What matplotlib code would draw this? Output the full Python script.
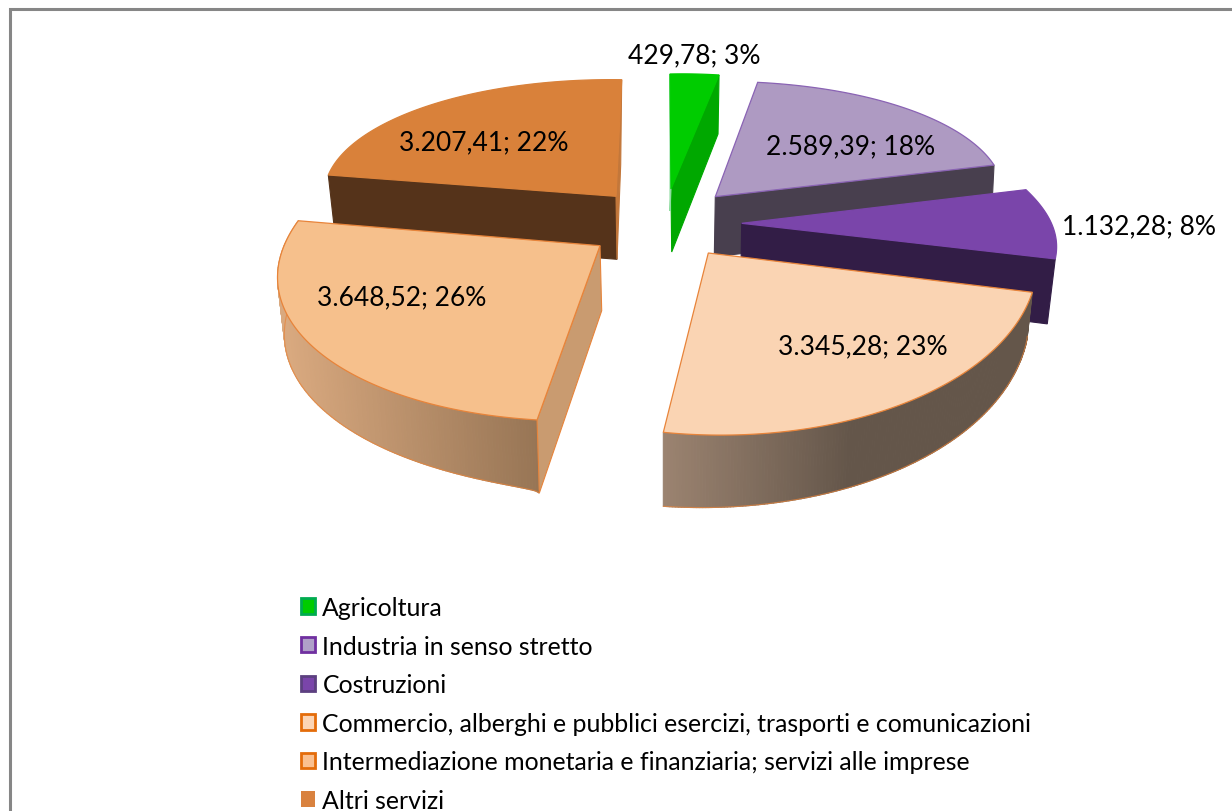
import numpy as np
import matplotlib
matplotlib.use("Agg")
import matplotlib.pyplot as plt
from matplotlib.collections import PolyCollection
from matplotlib.colors import to_rgb
from matplotlib.patches import Patch, Polygon

categories = ["Agricoltura", "Industria in senso stretto", "Costruzioni",
              "Commercio, alberghi e pubblici esercizi, trasporti e comunicazioni",
              "Intermediazione monetaria e finanziaria; servizi alle imprese",
              "Altri servizi"]
values = [429.78, 2589.39, 1132.28, 3345.28, 3648.52, 3207.41]
percents = [3, 18, 8, 23, 26, 22]
value_text = ["429,78", "2.589,39", "1.132,28", "3.345,28", "3.648,52", "3.207,41"]

# layout of each exploded slice in pixels: tip, then how the unit circle maps on screen
tips = [(671, 190), (715.3, 197.7), (741.7, 224.3), (708.3, 254), (600, 246.7), (616, 197.3)]
shapes = [(262, -1, 115, -5.5), (290.7, -12.2, 115.8, -3.2), (308.4, -59.4, 141, 1.2),
          (333.7, -1.7, 180.4, -4.9), (309.3, 19.9, 175.4, -4.2), (292.7, 5.7, 116.6, 2)]
bulges = [0, 0.012, 0.006, 0.03, 0.055, 0.008]
bulge_skew = [1, 1, 1, 1, 1.6, 1]
top_colors = ["#00cc00", "#ae9ac2", "#7a45aa", "#fad4b3", "#f6c08c", "#d9813a"]
edge_colors = ["#00cc00", "#8a63b4", "#7a45aa", "#e8843a", "#e8843a", "#d9813a"]
label_pos = [(694, 55.5), (851, 146.5), (1139, 226.5), (863, 346.5), (402, 297.5), (484, 142.5)]
legend_fill = ["#00cc00", "#b0a0c8", "#7a45aa", "#fcd5b5", "#fac090", "#d9823f"]
legend_edge = ["#00ab50", "#7030a0", "#5c4080", "#e46c0a", "#e46c0a", "none"]

plt.rcParams["font.family"] = ["Lato", "DejaVu Sans"]

total = sum(values)
cum = np.concatenate([[0], np.cumsum(values)]) / total * 360


def point(i, theta, t=0.0):
    tx, ty = tips[i]
    a, b, c, e = shapes[i]
    s, co = np.sin(np.radians(theta)), np.cos(np.radians(theta))
    k = 1 + bulges[i] * np.sin(np.pi * t ** bulge_skew[i])
    return tx + k * (a * s + b * co), ty + k * (-c * co + e * s)


def rim(i, n=160):
    ts = np.linspace(0, 1, n)
    th = cum[i] + ts * (cum[i + 1] - cum[i])
    x, y = point(i, th, ts)
    return ts, x, y


def side_wall(i, theta, off_tip, off_rim, color, edge=None):
    tx, ty = tips[i]
    px, py = point(i, theta)
    pts = [(tx, ty), (px, py), (px + off_rim[0], py + off_rim[1]), (tx + off_tip[0], ty + off_tip[1])]
    ax.add_patch(Polygon(pts, closed=True, facecolor=color, edgecolor=edge or color, lw=0.8))


def curved_wall(i, off_a, off_b, stops, edge):
    ts, x, y = rim(i)
    dx = off_a[0] + ts * (off_b[0] - off_a[0])
    dy = off_a[1] + np.sqrt(ts) * (off_b[1] - off_a[1])
    xb, yb = x + dx, y + dy
    quads = [[(x[j], y[j]), (x[j + 1], y[j + 1]), (xb[j + 1], yb[j + 1]), (xb[j], yb[j])]
             for j in range(len(ts) - 1)]
    # shaded from left to right along screen x
    xs = [q[0] for q in stops]
    rgb = np.array([to_rgb(q[1]) for q in stops])
    mid = (x[:-1] + x[1:]) / 2
    cols = np.column_stack([np.interp(mid, xs, rgb[:, k]) for k in range(3)])
    ax.add_collection(PolyCollection(quads, facecolors=cols, edgecolors=cols, linewidths=0.8))
    ax.plot(xb, yb, color=edge, lw=0.8, alpha=0.7, zorder=1)


def top_face(i):
    ts, x, y = rim(i)
    pts = np.column_stack([np.r_[tips[i][0], x], np.r_[tips[i][1], y]])
    ax.add_patch(Polygon(pts, closed=True, facecolor=top_colors[i], edgecolor=edge_colors[i], lw=0.9))


fig = plt.figure(figsize=(12.32, 8.12), dpi=100)
ax = fig.add_axes([0, 0, 1, 1])
ax.set_xlim(0, 1232)
ax.set_ylim(812, 0)
ax.axis("off")

# chart frame, only left and top survive the crop
ax.plot([9.5, 9.5, 1232], [812, 10, 10], color="#868686", lw=2.2, solid_joinstyle="miter")

# back to front
side_wall(5, cum[5], (1, 63), (7, 62), "#55331a")
side_wall(5, cum[6], (1, 63), (-1, 85), "#c3773a")
top_face(5)

side_wall(0, cum[1], (0.7, 63), (-1, 59), "#00a800")
side_wall(0, cum[0], (-1, 22), (0, 0), "#8fdca0")
top_face(0)

side_wall(1, cum[2], (-1, 60), (-3, 60), "#483f4e")
top_face(1)

side_wall(2, cum[3], (-1, 62), (-8, 65), "#321d46")
top_face(2)

curved_wall(4, (2, 73), (8, 53), [(285, "#d9a97f"), (537, "#977555")], "#e8843a")
side_wall(4, cum[4], (1.7, 65), (2.3, 73), "#c99b70", "#e8843a")
top_face(4)

curved_wall(3, (-5, 44), (0, 74), [(664, "#9b8370"), (850, "#64564a"), (1030, "#64564a")], "#e8843a")
top_face(3)

for i in range(len(values)):
    ax.text(label_pos[i][0], label_pos[i][1], f"{value_text[i]}; {percents[i]}%",
            ha="center", va="center", fontsize=19, color="black")

handles = [Patch(facecolor=legend_fill[i], edgecolor=legend_edge[i], lw=2, label=categories[i])
           for i in range(len(categories))]
ax.legend(handles=handles, loc="upper left", bbox_to_anchor=(301, 597), bbox_transform=ax.transData,
          frameon=False, fontsize=17.9, handlelength=0.58, handleheight=0.58, handletextpad=0.28,
          labelspacing=0.625, borderpad=0, borderaxespad=0)

fig.savefig("out.png", dpi=100)
